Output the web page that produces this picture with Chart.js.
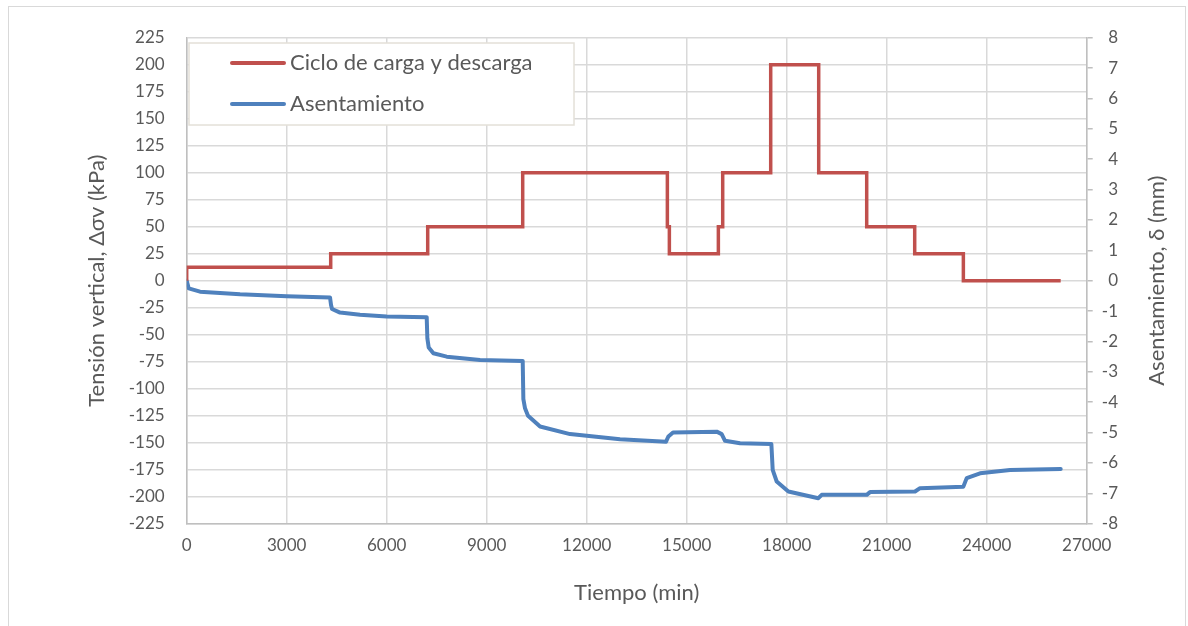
<!DOCTYPE html>
<html><head><meta charset="utf-8">
<script src="https://cdn.jsdelivr.net/npm/chart.js@4.4.0/dist/chart.umd.min.js"></script>
<style>html,body{margin:0;padding:0;background:#fff;} canvas{display:block;}</style>
</head><body>
<canvas id="c" width="1188" height="626"></canvas>
<script>
// ---- data ----
const seriesNames = ['Ciclo de carga y descarga', 'Asentamiento'];
const xTitle = 'Tiempo (min)';
const yLeftTitle = 'Tensión vertical, Δσv (kPa)';
const yRightTitle = 'Asentamiento, δ (mm)';

// load cycle (kPa), left axis
const loadTimes  = [0, 0, 4320, 4320, 7230, 7230, 10080, 10080, 14420, 14420, 14480, 14480, 15950, 15950, 16080, 16080, 17520, 17520, 18960, 18960, 20400, 20400, 21840, 21840, 23300, 23300, 26220];
const loadValues = [0, 12.5, 12.5, 25, 25, 50, 50, 100, 100, 50, 50, 25, 25, 50, 50, 100, 100, 200, 200, 100, 100, 50, 50, 25, 25, 0, 0];

// settlement (mm), right axis
const settleTimes  = [0, 60, 400, 1600, 3000, 4300, 4330, 4360, 4600, 5200, 6000, 7200, 7220, 7260, 7400, 7800, 8800, 10080, 10100, 10150, 10240, 10600, 11500, 13000, 14380, 14450, 14590, 15900, 16050, 16150, 16600, 17540, 17580, 17700, 18050, 18950, 19050, 20400, 20500, 21850, 22000, 23300, 23400, 23800, 24700, 26220];
const settleValues = [0, -0.25, -0.36, -0.45, -0.51, -0.55, -0.8, -0.93, -1.05, -1.12, -1.18, -1.2, -1.9, -2.2, -2.39, -2.5, -2.61, -2.64, -3.9, -4.2, -4.45, -4.8, -5.05, -5.22, -5.3, -5.13, -5.0, -4.97, -5.05, -5.27, -5.35, -5.38, -6.23, -6.61, -6.94, -7.16, -7.05, -7.05, -6.96, -6.94, -6.83, -6.78, -6.5, -6.34, -6.23, -6.2];

const xRange = [0, 27000, 3000];
const yLeftRange = [-225, 225, 25];
const yRightRange = [-8, 8, 1];

// ---- build ----
const FONT = "Lato, 'Open Sans', sans-serif";
const TXT = '#595959';
Chart.defaults.font.family = FONT;
Chart.defaults.color = TXT;

const loadData = loadTimes.map((t, i) => ({x: t, y: loadValues[i]}));
const settleData = settleTimes.map((t, i) => ({x: t, y: settleValues[i]}));

const bgPlugin = {
  id: 'bg',
  beforeDraw(chart) {
    const ctx = chart.ctx;
    ctx.save();
    ctx.fillStyle = '#fff';
    ctx.fillRect(0, 0, chart.width, chart.height);
    ctx.strokeStyle = '#D9D9D9';
    ctx.lineWidth = 1;
    ctx.strokeRect(8.5, 6.5, 1177, 640);
    ctx.restore();
  }
};

const legendPlugin = {
  id: 'boxLegend',
  afterDatasetsDraw(chart) {
    const ctx = chart.ctx;
    ctx.save();
    ctx.fillStyle = '#fff';
    ctx.fillRect(189, 43, 385, 82);
    ctx.strokeStyle = '#E3E0D8';
    ctx.lineWidth = 1.5;
    ctx.strokeRect(189, 43, 385, 82);
    chart.data.datasets.forEach((ds, i) => {
      const y = 63 + i * 41;
      ctx.strokeStyle = ds.borderColor;
      ctx.lineWidth = 4;
      ctx.lineCap = 'round';
      ctx.beginPath(); ctx.moveTo(232, y); ctx.lineTo(284, y); ctx.stroke();
      ctx.fillStyle = TXT;
      ctx.font = '22px ' + FONT;
      ctx.textBaseline = 'middle';
      ctx.textAlign = 'left';
      ctx.fillText(ds.label, 290, y);
    });
    ctx.restore();
  }
};

const rightTitlePlugin = {
  id: 'rightTitle',
  afterDraw(chart) {
    const ctx = chart.ctx;
    const s = chart.scales.y2;
    ctx.save();
    ctx.translate(1157, (s.top + s.bottom) / 2);
    ctx.rotate(-Math.PI / 2);
    ctx.fillStyle = TXT;
    ctx.font = '22px ' + FONT;
    ctx.textAlign = 'center';
    ctx.textBaseline = 'middle';
    ctx.fillText(yRightTitle, 0, 0);
    ctx.restore();
  }
};

new Chart(document.getElementById('c'), {
  type: 'line',
  data: {
    datasets: [
      { label: seriesNames[0], data: loadData, yAxisID: 'y', borderColor: '#C0504D', borderWidth: 3.5,
        pointRadius: 0, tension: 0, fill: false, borderJoinStyle: 'miter' },
      { label: seriesNames[1], data: settleData, yAxisID: 'y2', borderColor: '#4F81BD', borderWidth: 4,
        pointRadius: 0, tension: 0, fill: false, borderJoinStyle: 'round', borderCapStyle: 'round' }
    ]
  },
  options: {
    responsive: false,
    animation: false,
    events: [],
    layout: { padding: { left: 10, right: 70, top: 37.7, bottom: 10 } },
    plugins: { legend: { display: false }, tooltip: { enabled: false } },
    scales: {
      x: {
        type: 'linear', position: 'bottom',
        min: xRange[0], max: xRange[1],
        ticks: { stepSize: xRange[2], padding: 12, font: { size: 17 }, color: TXT, maxRotation: 0,
                 callback: v => String(v) },
        grid: { color: '#D9D9D9', lineWidth: 1.5, drawTicks: false },
        border: { color: '#BFBFBF', width: 1.5 },
        title: { display: true, text: xTitle, font: { size: 22 }, color: TXT, padding: { top: 0, bottom: 10 } },
        afterFit(s) { s.height = 626 - 10 - 523.7; }
      },
      y: {
        type: 'linear', position: 'left',
        min: yLeftRange[0], max: yLeftRange[1],
        ticks: { stepSize: yLeftRange[2], padding: 22, font: { size: 17 }, color: TXT },
        grid: { color: '#D9D9D9', lineWidth: 1.5, drawTicks: false },
        border: { color: '#BFBFBF', width: 1.5 },
        title: { display: true, text: yLeftTitle, font: { size: 22 }, color: TXT, padding: { top: 74, bottom: 0 } },
        afterFit(s) { s.width = 186.7 - 10; }
      },
      y2: {
        type: 'linear', position: 'right',
        min: yRightRange[0], max: yRightRange[1],
        ticks: { stepSize: yRightRange[2], padding: 10, font: { size: 17 }, color: TXT, crossAlign: 'far' },
        grid: { drawOnChartArea: false, drawTicks: true, tickLength: 6, color: '#BFBFBF', lineWidth: 1.5 },
        border: { color: '#BFBFBF', width: 1.5 },
        afterFit(s) { s.width = 1118 - 1086.7; }
      }
    }
  },
  plugins: [bgPlugin, legendPlugin, rightTitlePlugin]
});
</script>
</body></html>
